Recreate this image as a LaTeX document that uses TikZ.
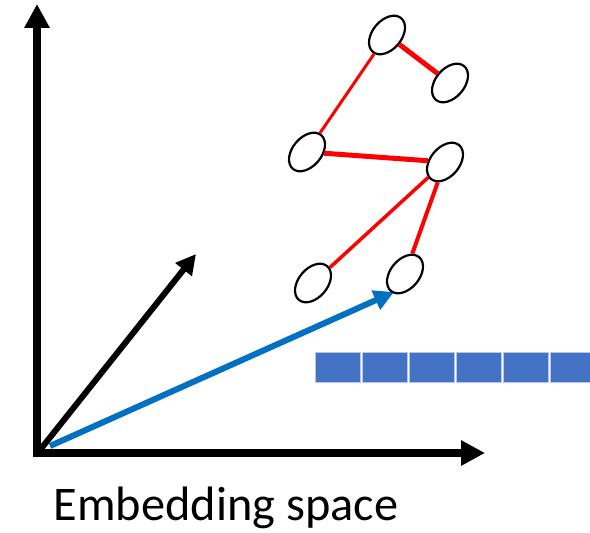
\documentclass[tikz,border=0pt]{standalone}
\usepackage{fontspec}
\setmainfont{Carlito}
\usepackage{tikz}
\usetikzlibrary{arrows.meta}
\usetikzlibrary{shapes.geometric}
\usetikzlibrary{positioning}
\definecolor{vecblue}{HTML}{0070C0}
\definecolor{cellblue}{HTML}{4472C4}

\begin{document}
\begin{tikzpicture}[
  x=1bp, y=-1bp,
  axis/.style={line width=8bp, -{Triangle[width=24bp,length=24bp]}},
  vec/.style={line width=6bp, -{Triangle[width=20bp,length=20bp]}},
  gnode/.style={ellipse, draw, line width=2.2bp, minimum width=44bp, minimum height=29bp, inner sep=0pt, rotate=50},
  gedge/.style={red, line width=3bp},
  cell/.style={rectangle, fill=cellblue, draw=cellblue!40, line width=0.6bp, minimum width=45bp, minimum height=30bp, inner sep=0pt}
]
\useasboundingbox (0,0) rectangle (590,533);

% axes
\coordinate (O) at (37,453);
\coordinate (ytop) at (37,4);
\coordinate (xend) at (485,453);
\draw[axis] ([yshift=4bp]O) -- (ytop);
\draw[axis] ([xshift=-4bp]O) -- (xend);

% vectors
\coordinate (bt) at (196,254);
\coordinate (vt) at (394,292);
\draw[vec] (40,450) -- (bt);
\draw[vec, vecblue] (50,446) -- (vt);

% graph
\node[gnode] (n1) at (387,35) {};
\node[gnode] (n2) at (450,83) {};
\node[gnode] (n3) at (307,152) {};
\node[gnode] (n4) at (445,162) {};
\node[gnode] (n5) at (313,283) {};
\node[gnode] (n6) at (405,274) {};

\draw[gedge, line width=5bp] (n1) -- (n2);
\draw[gedge] (n1) -- (n3);
\draw[gedge, line width=5bp] (n3) -- (n4);
\draw[gedge, line width=3.5bp] (n4) -- (n5);
\draw[gedge, line width=4bp] (n4) -- (n6);

% embedding vector
\foreach \i in {0,...,5}
  \node[cell] (c\i) at (337.5+47*\i,367) {};

\node[inner sep=0pt] (label) at (226,508) {\fontsize{48.5}{58}\selectfont Embedding space};

\end{tikzpicture}
\end{document}
